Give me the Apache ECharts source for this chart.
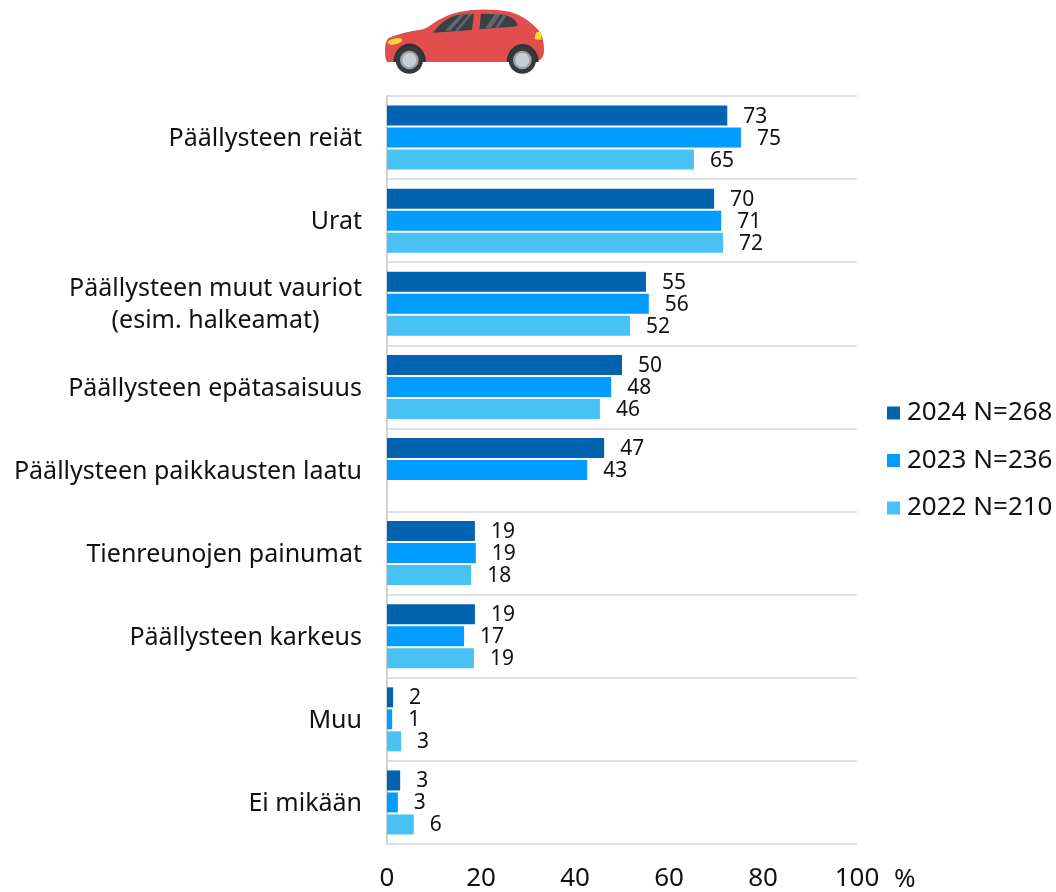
<!DOCTYPE html>
<html><head><meta charset="utf-8">
<style>html,body{margin:0;padding:0;background:#fff}#c{width:1056px;height:892px}</style>
<script src="https://cdn.jsdelivr.net/npm/echarts@6/dist/echarts.min.js"></script>
</head><body><div id="c"></div>
<script>
const categories = ['Päällysteen reiät','Urat','Päällysteen muut vauriot\n{c|(esim. halkeamat)}','Päällysteen epätasaisuus','Päällysteen paikkausten laatu','Tienreunojen painumat','Päällysteen karkeus','Muu','Ei mikään'];
const seriesNames = ['2024 N=268','2023 N=236','2022 N=210'];
const colors = ['#0063AF','#009CFF','#48C2F5'];
const v2024 = [72.4,69.6,55.1,50,46.2,18.7,18.7,1.3,2.8];
const v2023 = [75.3,71.1,55.7,47.7,42.6,18.9,16.4,1.1,2.3];
const v2022 = [65.3,71.5,51.7,45.3,null,17.9,18.5,3,5.7];
const l2024 = [73,70,55,50,47,19,19,2,3];
const l2023 = [75,71,56,48,43,19,17,1,3];
const l2022 = [65,72,52,46,null,18,19,3,6];
const FONT = '"Noto Sans",sans-serif';
const TXT = '#111111';
const values=[v2024,v2023,v2022], labels=[l2024,l2023,l2022];
const wheel = cx => `<circle cx="${cx}" cy="180" r="41" fill="#36393c"/><circle cx="${cx}" cy="180" r="28" fill="#9EA2A5"/><circle cx="${cx}" cy="180" r="21" fill="#C6CFD8"/>`;
const carSvg = `<svg xmlns="http://www.w3.org/2000/svg" width="600" height="240" viewBox="0 0 600 240">
<path d="M52,186 Q45,182 45,150 Q45,125 55,115 Q90,98 160,88 Q175,82 190,70 Q225,45 270,35 Q340,22 420,35 Q470,50 505,90 Q522,110 522,150 Q522,178 505,182 L400,186 Z" fill="#E24E4E"/>
<path d="M70,186 A48,54 0 0 1 168,186 Z M410,186 A48,54 0 0 1 506,186 Z" fill="#2f3336"/>
<path d="M188,98 Q220,55 262,45 L312,41 L306,90 Z M333,41 Q390,40 415,48 Q440,60 443,75 Q440,80 425,80 L328,88 Z" fill="#3B4045"/>
<path d="M225,92 L270,44 L285,43 L240,92 Z M255,92 L298,42 L306,42 L265,92 Z M345,86 L375,41 L392,42 L362,85 Z M375,84 L400,45 L408,48 L385,84 Z" fill="#62686E"/>
<ellipse cx="75" cy="124" rx="22" ry="9" transform="rotate(-12 75 124)" fill="#FDD835"/>
<path d="M500,96 Q492,106 494,118 L514,119 L514,96 Z" fill="#FDD835"/>
${wheel(118)}${wheel(457)}</svg>`;
const chart = echarts.init(document.getElementById('c'));
chart.setOption({
 animation:false,
 textStyle:{fontFamily:FONT,color:TXT},
 grid:{left:387,right:199,top:96,bottom:48,containLabel:false,outerBoundsMode:'none'},
 legend:{orient:'vertical',left:882,top:395,itemWidth:13,itemHeight:13,itemGap:21.5,selectedMode:false,
  data:seriesNames,icon:'rect',textStyle:{fontFamily:FONT,fontSize:26,color:TXT,padding:[0,0,0,2]}},
 xAxis:{type:'value',min:0,max:100,interval:20,
  name:'%',nameLocation:'end',nameGap:37,nameTextStyle:{fontFamily:FONT,fontSize:26,color:TXT,verticalAlign:'top',padding:[23,0,0,0]},
  axisLine:{show:false},axisTick:{show:false},splitLine:{show:false},
  axisLabel:{fontFamily:FONT,fontSize:26,color:TXT,margin:22,showMaxLabel:true,hideOverlap:false}},
 yAxis:{type:'category',inverse:true,data:categories,
  axisLine:{show:true,lineStyle:{color:'#D2D2D2',width:2}},axisTick:{show:false},
  splitLine:{show:true,lineStyle:{color:'#D6D6D6',width:1.5}},
  axisLabel:{fontFamily:FONT,fontSize:25,color:TXT,margin:25,lineHeight:32,align:'right',interval:0,padding:[3,0,0,0],
   rich:{c:{fontFamily:FONT,fontSize:25,color:TXT,lineHeight:32,width:291,align:'center'}}}},
 series:seriesNames.map((n,i)=>({name:n,type:'bar',barWidth:20,barGap:'10%',
  data:values[i],itemStyle:{color:colors[i]},
  label:{show:true,position:'right',distance:16,offset:[0,1],fontFamily:FONT,fontSize:21,color:TXT,
   formatter:p=>labels[i][p.dataIndex]==null?'':String(labels[i][p.dataIndex])}})),
 graphic:{elements:[{type:'image',silent:true,x:370,y:0,style:{image:'data:image/svg+xml;charset=utf-8,'+encodeURIComponent(carSvg),width:200,height:80}}]}
});
</script></body></html>
